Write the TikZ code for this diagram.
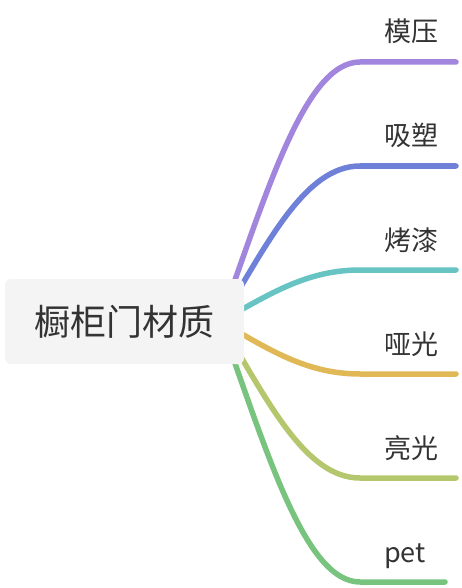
\documentclass[tikz,border=0pt]{standalone}
\usepackage{fontspec}
\newfontfamily\cjk{Noto Sans CJK SC}
\usetikzlibrary{positioning,backgrounds}

\definecolor{ink}{HTML}{333333}
\definecolor{rootgray}{HTML}{F4F4F4}
\definecolor{cpurple}{HTML}{A285DC}
\definecolor{cblue}{HTML}{6E80D8}
\definecolor{cteal}{HTML}{68C4C2}
\definecolor{cyellow}{HTML}{E0B856}
\definecolor{colive}{HTML}{B4C76C}
\definecolor{cgreen}{HTML}{78C47E}

\begin{document}
\begin{tikzpicture}[x=1pt,y=-1pt,
    branch/.style={line width=5.5pt, line cap=round},
    leaf/.style={font=\cjk\fontsize{27}{31}\selectfont, text=ink, inner sep=0pt, anchor=base west}]
    \useasboundingbox (0,0) rectangle (462,588);

    % Root node
    \node[fill=rootgray, rounded corners=6pt, minimum width=239pt, minimum height=85pt, inner sep=0pt,
          font=\cjk\fontsize{36}{40}\selectfont, text=ink] (root) at (124.5,321.5) {橱柜门材质};
    \coordinate (o) at ([xshift=-24pt]root.east);

    % Branches and labels
    \foreach \i/\y/\c/\e/\t in {1/62/cpurple/456/模压, 2/166/cblue/456/吸塑, 3/270/cteal/456/烤漆,
                                 4/374/cyellow/456/哑光, 5/478/colive/456/亮光, 6/582/cgreen/445/pet} {
      \coordinate (s\i) at (360,\y);
      \coordinate (e\i) at (\e,\y);
      % Draw curve behind the root box
      \begin{scope}[on background layer]
        \draw[branch, \c] (o) .. controls (267,{322+0.5*(\y-322)}) and (305,\y) .. (s\i) -- (e\i);
      \end{scope}
      \node[leaf] (l\i) at (384,\y-20) {\t};
    }

\end{tikzpicture}
\end{document}
